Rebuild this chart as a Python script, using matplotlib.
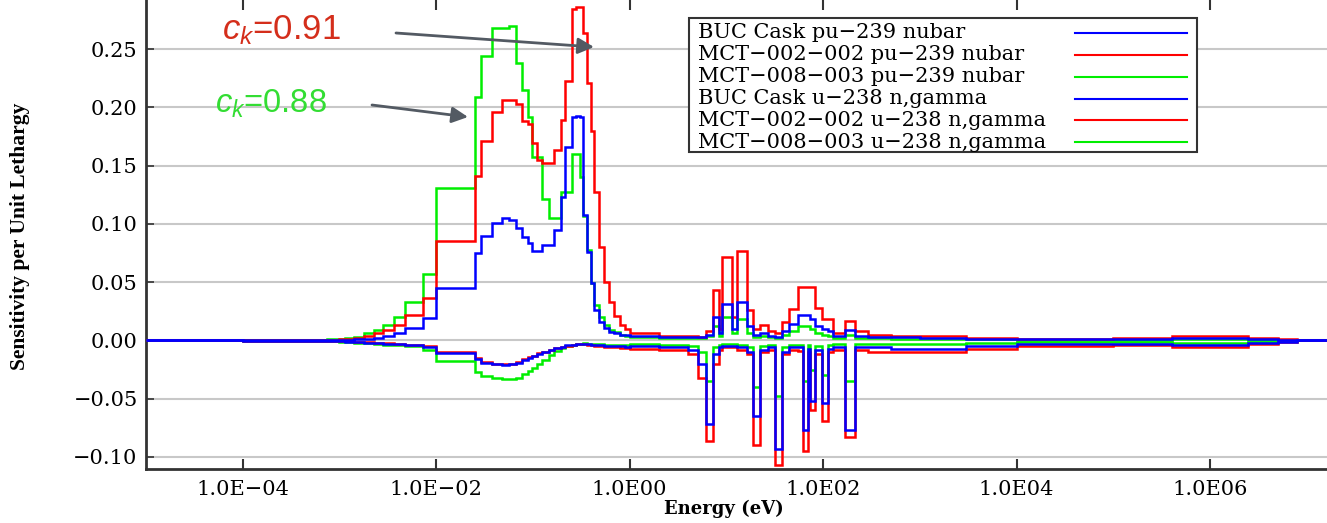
import numpy as np
import matplotlib
matplotlib.use("Agg")
import matplotlib.pyplot as plt
from matplotlib.patches import Rectangle
from matplotlib.lines import Line2D
from matplotlib.ticker import FixedLocator, FuncFormatter

plt.rcParams["mathtext.fontset"] = "custom"
plt.rcParams["mathtext.it"] = "Liberation Sans:italic"
plt.rcParams["mathtext.rm"] = "Liberation Sans"

# --- group structure ---------------------------------------------------------
# thermal groups (eV), 42 groups from 1e-5 to 1 eV
THERMAL_EDGES = [1e-5, 1e-4, 5e-4, 7.5e-4, 1e-3, 1.15e-3, 1.4e-3, 1.8e-3, 2.25e-3,
                 2.85e-3, 3.7e-3, 4.8e-3, 7.3e-3, 1e-2, 0.025, 0.029, 0.038, 0.048,
                 0.056, 0.067, 0.078, 0.089, 0.098, 0.109, 0.125, 0.146, 0.164,
                 0.193, 0.217, 0.255, 0.282, 0.307, 0.329, 0.364, 0.394, 0.433,
                 0.48, 0.54, 0.608, 0.685, 0.804, 0.905, 1.0]
# resonance + fast groups (eV), 38 groups from 1 eV to 20 MeV
RES_EDGES = [1.0, 2.0, 4.0, 5.1, 6.1, 7.3, 8.3, 9.1, 11.5, 13.0, 16.5, 19.0, 22.4,
             27.0, 32.0, 38.0, 44.0, 55.0, 62.0, 69.0, 74.0, 83.0, 98.0, 113.0,
             127.0, 170.0, 215.0, 290.0, 500.0, 1e3, 3e3, 1e4, 1e5, 4e5, 1e6,
             2.5e6, 5e6, 8e6, 2e7]

# --- sensitivities per unit lethargy: pu-239 nubar ---------------------------
buc_nubar_th = [0, 0.0001, 0.0002, 0.0003, 0.0004, 0.0005, 0.001, 0.0015, 0.0025,
                0.004, 0.006, 0.0103, 0.0195, 0.0447, 0.0747, 0.0896, 0.101, 0.105,
                0.1035, 0.0962, 0.089, 0.084, 0.077, 0.077, 0.082, 0.082, 0.095,
                0.1234, 0.166, 0.192, 0.193, 0.192, 0.108, 0.076, 0.049, 0.026,
                0.016, 0.011, 0.0075, 0.006, 0.005, 0.0045]
mct002_nubar_th = [0, 0.0001, 0.0004, 0.0008, 0.001, 0.0015, 0.002, 0.004, 0.006,
                   0.009, 0.013, 0.0215, 0.036, 0.0853, 0.1415, 0.171, 0.1956,
                   0.2065, 0.206, 0.203, 0.188, 0.186, 0.169, 0.155, 0.152, 0.152,
                   0.1635, 0.189, 0.2225, 0.284, 0.286, 0.286, 0.264, 0.221, 0.180,
                   0.127, 0.0805, 0.050, 0.033, 0.021, 0.013, 0.010]
mct008_nubar_th = [0, 0.0001, 0.0005, 0.001, 0.0015, 0.002, 0.0026, 0.006, 0.009,
                   0.013, 0.020, 0.033, 0.057, 0.1306, 0.2093, 0.2443, 0.268, 0.268,
                   0.270, 0.238, 0.215, 0.192, 0.157, 0.157, 0.121, 0.105, 0.105,
                   0.127, 0.127, 0.160, 0.160, 0.140, 0.107, 0.078, 0.049, 0.030,
                   0.020, 0.013, 0.009, 0.007, 0.005, 0.004]

buc_nubar_res = [0.004, 0.003, 0.003, 0.003, 0.005, 0.020, 0.006, 0.031, 0.010, 0.033,
                 0.012, 0.005, 0.006, 0.004, 0.003, 0.008, 0.014, 0.022, 0.022, 0.022,
                 0.018, 0.012, 0.010, 0.008, 0.004, 0.009, 0.004, 0.003, 0.003, 0.002,
                 0.0015, 0.001, 0.001, 0.002, 0.002, 0.001, 0.0005, 0.0]
mct002_nubar_res = [0.006, 0.004, 0.004, 0.003, 0.008, 0.043, 0.010, 0.072, 0.020,
                    0.077, 0.026, 0.010, 0.013, 0.008, 0.006, 0.0155, 0.027, 0.046,
                    0.046, 0.046, 0.046, 0.028, 0.018, 0.018, 0.006, 0.0166, 0.008,
                    0.005, 0.004, 0.004, 0.002, 0.001, 0.002, 0.004, 0.004, 0.002,
                    0.001, 0.0]
mct008_nubar_res = [0.003, 0.002, 0.002, 0.002, 0.004, 0.012, 0.004, 0.020, 0.006,
                    0.018, 0.006, 0.003, 0.004, 0.003, 0.002, 0.005, 0.008, 0.012,
                    0.012, 0.012, 0.010, 0.006, 0.005, 0.004, 0.002, 0.005, 0.002,
                    0.002, 0.001, 0.001, 0.001, 0.0005, 0.0005, 0.001, 0.001, 0.0005,
                    0.0002, 0.0]

# --- sensitivities per unit lethargy: u-238 n,gamma --------------------------
buc_ng_th = [0, -0.0001, -0.0003, -0.0005, -0.0007, -0.001, -0.0013, -0.0018,
             -0.0023, -0.0028, -0.0034, -0.0042, -0.0052, -0.0106, -0.0155, -0.019,
             -0.0205, -0.021, -0.0205, -0.019, -0.0165, -0.0148, -0.0135, -0.0115,
             -0.0098, -0.0085, -0.0068, -0.0055, -0.0043, -0.0035, -0.003, -0.0028,
             -0.0027, -0.003, -0.0035, -0.004, -0.0043, -0.0046, -0.0048, -0.005,
             -0.005, -0.0052]
mct002_ng_th = [0, -0.0001, -0.0002, -0.0004, -0.0006, -0.0009, -0.0012, -0.0016,
                -0.002, -0.0025, -0.003, -0.0038, -0.0048, -0.0100, -0.0148, -0.0185,
                -0.020, -0.0205, -0.020, -0.0185, -0.016, -0.0145, -0.013, -0.011,
                -0.0095, -0.0082, -0.0066, -0.0054, -0.0044, -0.0037, -0.0033,
                -0.0032, -0.0033, -0.0037, -0.0042, -0.0047, -0.0051, -0.0055,
                -0.0058, -0.006, -0.0062, -0.0064]
mct008_ng_th = [0, -0.0001, -0.0003, -0.0006, -0.001, -0.0015, -0.002, -0.0025,
                -0.003, -0.0035, -0.004, -0.005, -0.0086, -0.0178, -0.027, -0.0305,
                -0.0325, -0.0335, -0.0335, -0.032, -0.0285, -0.026, -0.0235, -0.0205,
                -0.0165, -0.0125, -0.009, -0.0065, -0.0045, -0.0035, -0.003, -0.0027,
                -0.0026, -0.0028, -0.003, -0.0032, -0.0034, -0.0035, -0.0035,
                -0.0035, -0.0035, -0.0035]

buc_ng_res = [-0.005, -0.006, -0.008, -0.020, -0.0715, -0.012, -0.006, -0.005,
              -0.005, -0.006, -0.010, -0.065, -0.008, -0.006, -0.093, -0.010, -0.006,
              -0.006, -0.077, -0.007, -0.052, -0.008, -0.054, -0.007, -0.006, -0.077,
              -0.006, -0.006, -0.007, -0.007, -0.005, -0.003, -0.003, -0.004, -0.004,
              -0.002, -0.001, 0.0]
mct002_ng_res = [-0.007, -0.008, -0.012, -0.032, -0.086, -0.020, -0.008, -0.006,
                 -0.006, -0.008, -0.012, -0.090, -0.010, -0.008, -0.107, -0.012,
                 -0.008, -0.009, -0.0945, -0.010, -0.060, -0.012, -0.069, -0.010,
                 -0.008, -0.083, -0.008, -0.010, -0.010, -0.010, -0.007, -0.005,
                 -0.004, -0.006, -0.006, -0.003, -0.001, 0.0]
mct008_ng_res = [-0.003, -0.004, -0.005, -0.010, -0.035, -0.006, -0.004, -0.003,
                 -0.003, -0.004, -0.006, -0.040, -0.005, -0.004, -0.048, -0.006,
                 -0.004, -0.004, -0.035, -0.004, -0.025, -0.005, -0.030, -0.004,
                 -0.003, -0.035, -0.003, -0.003, -0.003, -0.003, -0.002, -0.001,
                 -0.001, -0.002, -0.002, -0.001, -0.0005, 0.0]

LABELS = ["BUC Cask pu\u2212239 nubar", "MCT\u2212002\u2212002 pu\u2212239 nubar",
          "MCT\u2212008\u2212003 pu\u2212239 nubar", "BUC Cask u\u2212238 n,gamma",
          "MCT\u2212002\u2212002 u\u2212238 n,gamma", "MCT\u2212008\u2212003 u\u2212238 n,gamma"]
BLUE, RED, GREEN = "#0000ff", "#ff0000", "#00ee00"
COLORS = [BLUE, RED, GREEN, BLUE, RED, GREEN]

series = [
    (buc_nubar_th, buc_nubar_res), (mct002_nubar_th, mct002_nubar_res),
    (mct008_nubar_th, mct008_nubar_res), (buc_ng_th, buc_ng_res),
    (mct002_ng_th, mct002_ng_res), (mct008_ng_th, mct008_ng_res),
]
edges = THERMAL_EDGES + RES_EDGES[1:]

W, H = 1327, 523
fig = plt.figure(figsize=(W / 100, H / 100), dpi=100)
ax = fig.add_axes([146 / W, 1 - 469 / H, (W - 146) / W, 469 / H])

# green first, blue last so the BUC cask curves sit on top
zorders = [5, 4, 3, 5, 4, 3]
for (th, res), col, z in zip(series, COLORS, zorders):
    ax.stairs(th + res, edges, baseline=None, color=col, lw=1.8, zorder=z)

ax.set_xscale("log")
ax.set_xlim(1e-5, 1.62e7)
ax.set_ylim(-0.1103, 0.2921)

ax.xaxis.set_major_locator(FixedLocator([1e-4, 1e-2, 1e0, 1e2, 1e4, 1e6]))
ax.xaxis.set_minor_locator(FixedLocator([]))


def efmt(v, _):
    e = int(round(np.log10(v)))
    s = f"1.0E{abs(e):02d}"
    return s.replace("E", "E\u2212") if e < 0 else s


ax.xaxis.set_major_formatter(FuncFormatter(efmt))
ax.yaxis.set_major_locator(FixedLocator([-0.10, -0.05, 0.0, 0.05, 0.10, 0.15, 0.20, 0.25]))
ax.yaxis.set_major_formatter(FuncFormatter(lambda v, _: f"{v:.2f}".replace("-", "\u2212")))

ax.tick_params(axis="x", which="both", direction="in", length=7, width=1.5,
               top=True, pad=8, color="#333333")
ax.tick_params(axis="y", direction="in", length=6, width=1.2, pad=6, color="#333333")
for lab in ax.get_xticklabels() + ax.get_yticklabels():
    lab.set_fontfamily("DejaVu Serif")
    lab.set_fontsize(15)

for side in ("top", "right"):
    ax.spines[side].set_visible(False)
for side in ("left", "bottom"):
    ax.spines[side].set_linewidth(2)
    ax.spines[side].set_color("#333333")

ax.yaxis.grid(True, color="#c8c8c8", lw=1.5)
ax.set_axisbelow(True)

ax.set_ylabel("Sensitivity per Unit Lethargy", family="Liberation Serif",
              fontweight="bold", fontsize=15.5)
ax.yaxis.set_label_coords((30 - 146) / 1181, (469 - 236) / 469)
ax.set_xlabel("Energy (eV)", family="DejaVu Serif", fontweight="bold", fontsize=13,
              va="center")
ax.xaxis.set_label_coords((724 - 146) / 1181, (469 - 509) / 469)

# legend: labels left, line samples right
leg_x0, leg_x1 = (689 - 146) / 1181, (1197 - 146) / 1181
leg_y0, leg_y1 = (469 - 152) / 469, (469 - 18) / 469
ax.add_patch(Rectangle((leg_x0, leg_y0), leg_x1 - leg_x0, leg_y1 - leg_y0,
                       transform=ax.transAxes, facecolor="white", edgecolor="#333333",
                       lw=1.5, zorder=10))
row_px = [33, 55, 77, 98.5, 120, 142]
for lab, col, ry in zip(LABELS, COLORS, row_px):
    yy = (469 - ry) / 469
    ax.text((698 - 146) / 1181, yy, lab, transform=ax.transAxes, family="DejaVu Serif",
            fontsize=15, va="center", ha="left", zorder=11)
    ax.add_line(Line2D([(1075 - 146) / 1181, (1187 - 146) / 1181], [yy, yy],
                       transform=ax.transAxes, color=col, lw=1.5, zorder=11))

# c_k annotations with arrows pointing at the two peaks
fig.text(222 / W, 1 - 30 / H, r"$c_k$=0.91", color="#d42e1b", fontsize=25,
         family="Liberation Sans", va="center", ha="left")
fig.text(215 / W, 1 - 104 / H, r"$c_k$=0.88", color="#33dd33", fontsize=23.5,
         family="Liberation Sans", va="center", ha="left")
arrow = dict(arrowstyle="-|>", color="#535a63", lw=2, mutation_scale=24,
             shrinkA=0, shrinkB=0)
ax.annotate("", xy=(594, H - 47), xytext=(396, H - 33), xycoords="figure pixels",
            textcoords="figure pixels", arrowprops=arrow, zorder=12)
ax.annotate("", xy=(468, H - 117), xytext=(372, H - 105), xycoords="figure pixels",
            textcoords="figure pixels", arrowprops=arrow, zorder=12)

fig.savefig("out.png", dpi=100)
